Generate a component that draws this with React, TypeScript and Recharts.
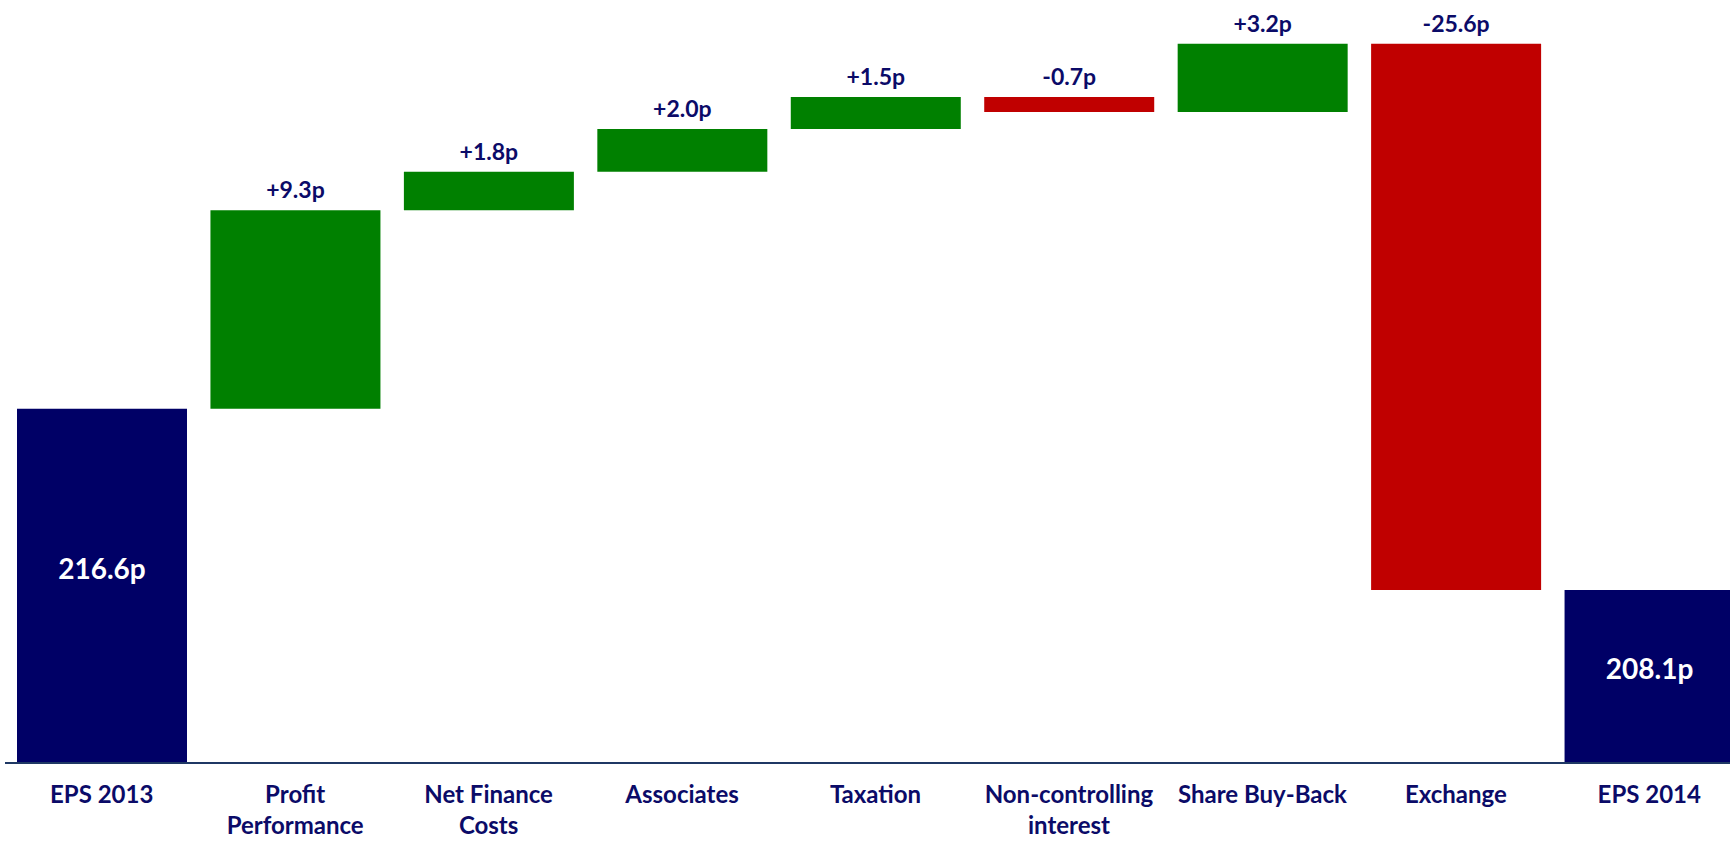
import React from "react";
import { BarChart, Bar, XAxis, YAxis, Cell } from "recharts";

// ---- data ----
const categories = [
  "EPS 2013",
  "Profit\nPerformance",
  "Net Finance\nCosts",
  "Associates",
  "Taxation",
  "Non-controlling\ninterest",
  "Share Buy-Back",
  "Exchange",
  "EPS 2014",
];
const startValue = 216.6;
const endValue = 208.1;
const steps = [9.3, 1.8, 2.0, 1.5, -0.7, 3.2, -25.6];
const stepLabels = ["+9.3p", "+1.8p", "+2.0p", "+1.5p", "-0.7p", "+3.2p", "-25.6p"];
const totalLabels = ["216.6p", "208.1p"];
const axisFloor = 200;
const axisCeil = 235;

// ---- derived table ----
type Row = { name: string; range: [number, number]; kind: "total" | "up" | "down"; label: string };
const rows: Row[] = [];
rows.push({ name: categories[0], range: [axisFloor, startValue], kind: "total", label: totalLabels[0] });
let running = startValue;
steps.forEach((s, i) => {
  const next = running + s;
  rows.push({
    name: categories[i + 1],
    range: [Math.min(running, next), Math.max(running, next)],
    kind: s >= 0 ? "up" : "down",
    label: stepLabels[i],
  });
  running = next;
});
rows.push({ name: categories[8], range: [axisFloor, endValue], kind: "total", label: totalLabels[1] });

const COLORS = { total: "#000066", up: "#008000", down: "#C00000" };
const TEXT = "#0B0B68";
const FONT = "Lato, 'Open Sans', sans-serif";

const CategoryTick = (props: any) => {
  const { x, y, payload } = props;
  const lines = String(payload.value).split("\n");
  return (
    <text
      x={x}
      y={y}
      textAnchor="middle"
      fill={TEXT}
      fontFamily={FONT}
      fontWeight={700}
      fontSize={24}
    >
      {lines.map((l, i) => (
        <tspan key={i} x={x} dy={i === 0 ? 40 : 31}>
          {l}
        </tspan>
      ))}
    </text>
  );
};

const renderLabel = (props: any) => {
  const { x, y, width, height, index } = props;
  const row = rows[index];
  if (!row) return null;
  const cx = x + width / 2;
  if (row.kind === "total") {
    const cy = y + height / 2 - height * 0.05;
    return (
      <text
        x={cx}
        y={cy}
        textAnchor="middle"
        dominantBaseline="central"
        fill="#FFFFFF"
        fontFamily={FONT}
        fontWeight={700}
        fontSize={28}
      >
        {row.label}
      </text>
    );
  }
  return (
    <text
      x={cx}
      y={y - 12}
      textAnchor="middle"
      fill={TEXT}
      fontFamily={FONT}
      fontWeight={700}
      fontSize={23}
    >
      {row.label}
    </text>
  );
};

export default function App() {
  return (
    <div
      style={{
        position: "absolute",
        left: 0,
        top: 0,
        width: 1730,
        height: 841,
        overflow: "hidden",
        background: "#fff",
      }}
    >
      <BarChart
        width={1746}
        height={841}
        data={rows}
        margin={{ top: 16, right: 0, bottom: 0, left: 5 }}
        barCategoryGap={0}
      >
        <YAxis hide domain={[axisFloor, axisCeil]} allowDataOverflow />
        <XAxis
          dataKey="name"
          height={78}
          interval={0}
          tickLine={false}
          tickSize={0}
          tickMargin={0}
          axisLine={{ stroke: "#1F3864", strokeWidth: 2 }}
          tick={<CategoryTick />}
        />
        <Bar dataKey="range" barSize={170} isAnimationActive={false} label={renderLabel}>
          {rows.map((r, i) => (
            <Cell key={i} fill={COLORS[r.kind]} />
          ))}
        </Bar>
      </BarChart>
    </div>
  );
}
